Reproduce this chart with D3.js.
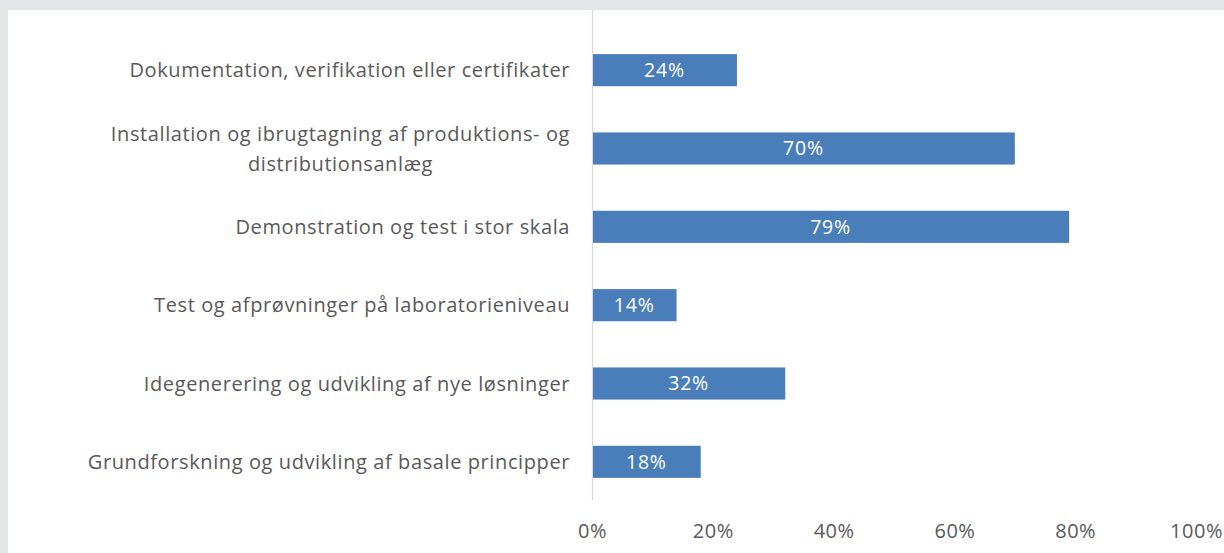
<!DOCTYPE html>
<html>
<head>
<meta charset="utf-8">
<script src="https://cdn.jsdelivr.net/npm/d3@7"></script>
<style>
  html, body { margin: 0; padding: 0; background: #e4e5e7; }
  svg { display: block; }
</style>
</head>
<body>
<script>
// Categories, top to bottom; each entry holds the lines of its label
const categories = [
  ["Dokumentation, verifikation eller certifikater"],
  ["Installation og ibrugtagning af produktions- og", "distributionsanlæg"],
  ["Demonstration og test i stor skala"],
  ["Test og afprøvninger på laboratorieniveau"],
  ["Idegenerering og udvikling af nye løsninger"],
  ["Grundforskning og udvikling af basale principper"]
];
const values = [24, 70, 79, 14, 32, 18];
const tickValues = [0, 20, 40, 60, 80, 100];

const W = 1224, H = 553;
const svg = d3.select("body").append("svg").attr("width", W).attr("height", H);

// white panel inside the grey frame
svg.append("rect").attr("x", 8).attr("y", 10).attr("width", W - 8).attr("height", H - 10).attr("fill", "#ffffff");

const x = d3.scaleLinear().domain([0, 100]).range([592, 1196]);
const y = d3.scaleBand().domain(d3.range(categories.length)).range([31, 501])
  .paddingInner(0.59).paddingOuter(0.295);

const font = "'Open Sans', 'Liberation Sans', sans-serif";
const textColor = "#595959";

// category axis line
svg.append("line")
  .attr("x1", x(0) + 0.5).attr("x2", x(0) + 0.5)
  .attr("y1", 10).attr("y2", 500)
  .attr("stroke", "#d9d9d9").attr("stroke-width", 1.2);

// bars
svg.append("g").selectAll("rect").data(values).join("rect")
  .attr("x", x(0) + 1)
  .attr("y", (d, i) => y(i))
  .attr("width", d => x(d) - x(0) - 1)
  .attr("height", y.bandwidth())
  .attr("fill", "#4a7ebb");

// value labels centered in each bar
svg.append("g").selectAll("text").data(values).join("text")
  .attr("x", d => (x(0) + x(d)) / 2)
  .attr("y", (d, i) => y(i) + y.bandwidth() / 2)
  .attr("dy", "0.35em")
  .attr("text-anchor", "middle")
  .attr("font-family", font).attr("font-size", 19.5)
  .attr("letter-spacing", 0.8)
  .attr("fill", "#ffffff")
  .text(d => d + "%");

// category labels, right aligned; multi-line labels centred within their block
const labelRight = 570;
const lineH = 30;
categories.forEach((lines, i) => {
  const cy = y(i) + y.bandwidth() / 2;
  const g = svg.append("g");
  const t = g.selectAll("text").data(lines).join("text")
    .attr("y", (d, j) => cy + (j - (lines.length - 1) / 2) * lineH)
    .attr("dy", "0.35em")
    .attr("font-family", font).attr("font-size", 20)
    .attr("letter-spacing", 0.6)
    .attr("fill", textColor)
    .text(d => d);
  const widths = t.nodes().map(n => n.getComputedTextLength());
  const maxW = d3.max(widths);
  t.attr("text-anchor", "middle").attr("x", labelRight - maxW / 2);
});

// value axis tick labels
const xAxis = d3.axisBottom(x).tickValues(tickValues).tickFormat(d => d + "%").tickSize(0).tickPadding(0);
const ax = svg.append("g").attr("transform", "translate(0,531)").call(xAxis);
ax.select(".domain").remove();
ax.selectAll("text")
  .attr("dy", "0.35em")
  .attr("font-family", font).attr("font-size", 20)
  .attr("letter-spacing", 0.5)
  .attr("fill", textColor);
</script>
</body>
</html>
